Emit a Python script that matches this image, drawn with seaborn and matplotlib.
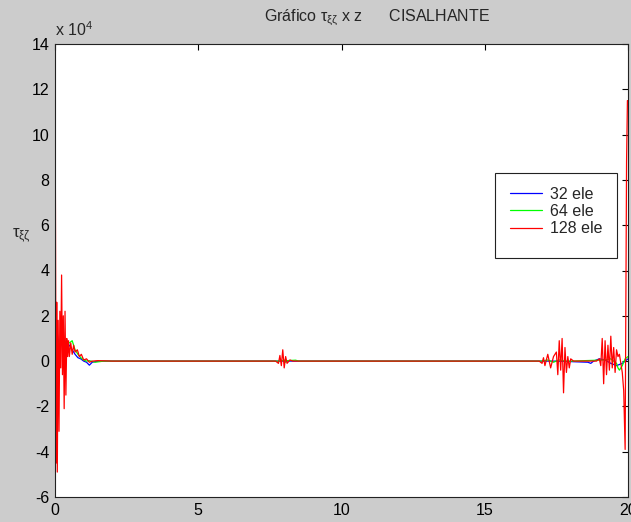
import matplotlib
matplotlib.use("Agg")
import matplotlib.pyplot as plt
import seaborn as sns
import pandas as pd
from matplotlib.patches import Rectangle

# values, tau in units of 1e4
z_32 = [0.0, 0.05, 0.1, 0.15, 0.2, 0.3, 0.4, 0.5, 0.6, 0.7, 0.8, 0.9, 1.0, 1.1, 1.2, 1.3, 1.4, 1.6,
        8.0, 17.5, 18.6, 18.7, 18.8, 19.0, 19.2, 19.4, 19.5, 19.6, 19.7, 19.8, 19.9, 20.0]
tau_32 = [2.0, 1.6, 1.0, 0.6, 0.8, 0.75, 0.8, 0.7, 0.5, 0.3, 0.15, 0.1, 0.0, -0.05, -0.18, -0.05, -0.02, 0.0,
          0.0, 0.0, -0.05, -0.1, 0.0, 0.1, 0.05, -0.1, -0.15, -0.2, -0.15, -0.1, 0.0, 0.1]

z_64 = [0.0, 0.03, 0.06, 0.1, 0.15, 0.2, 0.25, 0.3, 0.35, 0.4, 0.5, 0.6, 0.7, 0.8, 0.9, 1.0, 1.1, 1.2, 1.4, 1.7,
        7.9, 8.0, 8.05, 8.1, 8.4, 8.5, 8.6, 17.0, 17.2, 17.4, 17.6, 17.8, 18.0, 19.2, 19.4, 19.5, 19.6, 19.65,
        19.7, 19.8, 19.9, 20.0]
tau_64 = [3.0, 1.5, 0.5, 0.9, 0.6, 1.1, 0.7, 1.0, 0.8, 0.9, 0.8, 0.9, 0.5, 0.3, 0.15, 0.05, 0.0, 0.02, -0.05, 0.0,
          0.0, 0.05, -0.05, 0.02, 0.04, 0.0, 0.0, 0.0, 0.05, -0.05, 0.05, 0.0, 0.0, 0.05, 0.1, 0.0, -0.1, -0.3,
          -0.4, -0.2, 0.1, 0.2]

z_128 = [0.0, 0.02, 0.04, 0.06, 0.08, 0.11, 0.14, 0.17, 0.2, 0.23, 0.26, 0.29, 0.32, 0.35, 0.38, 0.41, 0.44,
         0.47, 0.5, 0.55, 0.6, 0.65, 0.7, 0.78, 0.85, 0.92, 1.0, 1.1, 1.2, 1.3, 1.5, 2.0,
         7.7, 7.8, 7.85, 7.9, 7.95, 8.0, 8.05, 8.1, 8.2, 8.3,
         16.9, 17.0, 17.05, 17.1, 17.2, 17.3, 17.4, 17.5, 17.55, 17.6, 17.65, 17.7, 17.75, 17.8, 17.85,
         17.9, 17.95, 18.0, 18.1,
         18.9, 19.0, 19.05, 19.1, 19.15, 19.2, 19.25, 19.3, 19.35, 19.4, 19.45, 19.5, 19.55, 19.6, 19.65,
         19.7, 19.75, 19.8, 19.85, 19.9, 19.95, 19.98, 20.0]
tau_128 = [13.5, 4.7, -4.5, 2.6, -4.9, 1.8, -3.1, 2.2, -0.3, 3.8, -0.6, 2.0, -2.1, 2.2, -1.5, 1.0, 0.2,
           0.9, 0.2, 0.8, 0.3, 0.7, 0.4, 0.5, 0.2, 0.3, 0.05, 0.1, -0.05, 0.0, 0.02, 0.0,
           0.0, -0.1, 0.25, -0.2, 0.5, -0.3, 0.2, -0.1, 0.05, 0.0,
           0.0, -0.1, 0.15, -0.2, 0.3, -0.3, 0.2, 0.4, -0.6, 0.9, -0.4, 1.0, -1.4, 0.6, -0.5,
           0.2, -0.3, 0.1, 0.0,
           0.0, 0.1, -0.2, 1.0, -1.0, 0.9, -0.6, 0.7, -0.4, 1.1, -0.3, 0.6, -0.5, 0.5, 0.2,
           0.3, -0.1, -0.5, -1.3, -3.9, 8.8, 11.5, 11.5]

series = ["32 ele", "64 ele", "128 ele"]

df = pd.concat([
    pd.DataFrame({"z": z_32, "tau": tau_32, "serie": series[0]}),
    pd.DataFrame({"z": z_64, "tau": tau_64, "serie": series[1]}),
    pd.DataFrame({"z": z_128, "tau": tau_128, "serie": series[2]}),
])

sns.set_style("white")
plt.rcParams["font.family"] = ["Liberation Sans", "DejaVu Sans"]
plt.rcParams["axes.unicode_minus"] = False
plt.rcParams["mathtext.default"] = "regular"

fig = plt.figure(figsize=(6.31, 5.22), dpi=100, facecolor="#cccccc")
ax = fig.add_axes([55 / 631, 1 - 497 / 522, 573 / 631, 453 / 522])
ax.set_facecolor("white")

sns.lineplot(data=df, x="z", y="tau", hue="serie", hue_order=series,
             palette={"32 ele": "#0000ff", "64 ele": "#00ff00", "128 ele": "#ff0000"},
             estimator=None, sort=False, lw=0.9, ax=ax, legend=True)

ax.set_xlim(0, 20)
ax.set_ylim(-6, 14)
ax.set_xticks([0, 5, 10, 15, 20])
ax.set_yticks(range(-6, 15, 2))
ax.set_xlabel("")
ax.set_ylabel("")
ax.tick_params(direction="in", length=4, width=0.8, labelsize=11.5, colors="black",
               top=True, right=True, pad=4)
for s in ax.spines.values():
    s.set_color("#222222")
    s.set_linewidth(0.8)

ax.text(0.0, 1.012, r"x 10$^4$", transform=ax.transAxes, ha="left", va="bottom", fontsize=11.5)
fig.text(377 / 631, 1 - 18 / 522, r"Gráfico $\tau_{\xi\zeta}$ x z      CISALHANTE",
         ha="center", va="center", fontsize=11.5)
fig.text(12 / 631, 1 - 236 / 522, r"$\tau_{\xi\zeta}$", ha="left", va="center", fontsize=12)

leg = ax.legend(loc="upper left", bbox_to_anchor=(0.775, 0.71), frameon=False, fontsize=11.5,
                handlelength=2.0, labelspacing=0.15, borderpad=0.2, handletextpad=0.5)
for line in leg.get_lines():
    line.set_linewidth(0.9)
ax.add_patch(Rectangle((0.768, 0.5265), 0.213, 0.188, transform=ax.transAxes, fill=False,
                       edgecolor="#222222", lw=0.8, zorder=5))

fig.savefig("out.png", dpi=100, facecolor=fig.get_facecolor())
